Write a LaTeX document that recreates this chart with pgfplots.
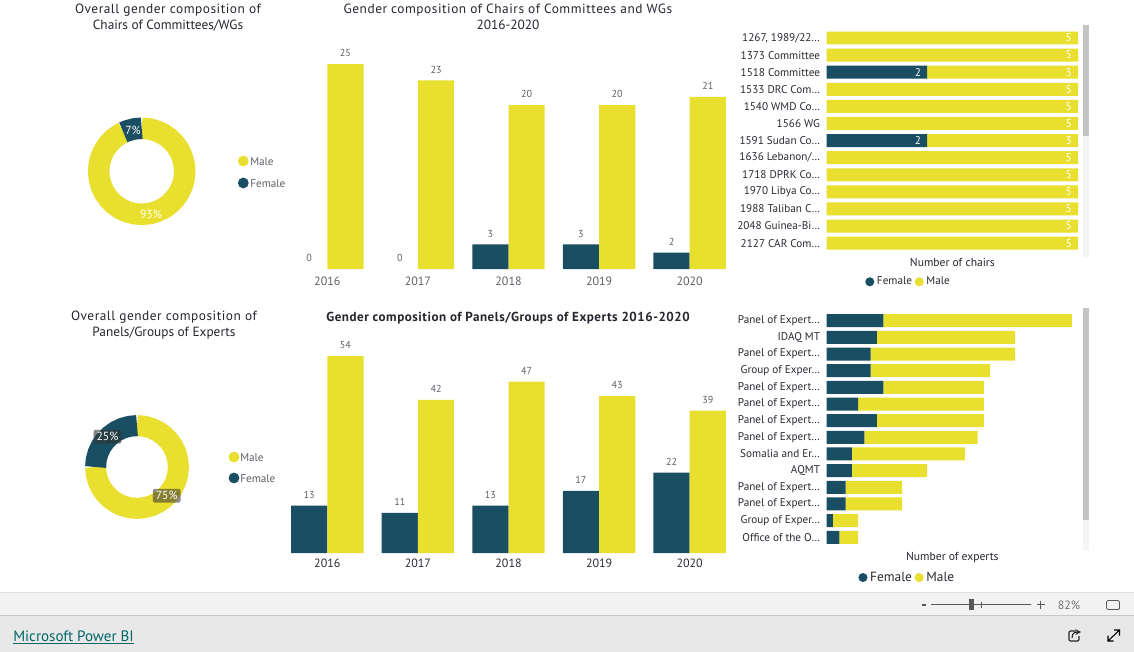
\documentclass[border=0pt]{standalone}
\usepackage{fontspec}
\setmainfont{PT Sans}
\newfontfamily\titlefont[LetterSpace=4]{PT Sans}
\usepackage{pgfplots}
\usepgfplotslibrary{polar}
\pgfplotsset{compat=1.18}

\definecolor{male}{HTML}{E9DF2F}
\definecolor{female}{HTML}{1A4E62}
\definecolor{titlecol}{HTML}{252630}
\definecolor{labelcol}{HTML}{5F6068}
\definecolor{darklabel}{HTML}{2A2A33}

% 1 px = 0.75 pt, all picture coordinates are reference pixels
\pgfplotsset{
  /pgf/number format/assume math mode=true,
  pxat/.style 2 args={at={({#1*0.75pt},{-#2*0.75pt})}},
  circlelegend/.style={
    legend image code/.code={\fill[##1] (0pt,0pt) circle (3.4pt);},
    legend cell align=left,
  },
  donut/.style={
    hide axis, scale only axis, clip=false,
    xmin=0, xmax=360, ymin=0, ymax=1,
  },
  yearbars/.style={
    ybar=0pt, bar width=0.4, scale only axis, clip=false,
    width=339.75pt,
    xmin=-0.5, xmax=4.5, ymin=0,
    xtick={0,1,2,3,4}, xticklabels={2016,2017,2018,2019,2020},
    ytick=\empty,
    axis y line=none, axis x line=bottom,
    x axis line style={draw=none, -},
    major tick length=0pt,
    nodes near coords,
    every node near coord/.append style={font=\fontsize{7.6pt}{9pt}\selectfont, color=labelcol, yshift=1.8pt},
  },
  rowbars/.style={
    xbar stacked, scale only axis, clip=false,
    y dir=reverse, bar width=0.76,
    xtick=\empty, ytick=data,
    axis line style={draw=none},
    major tick length=0pt,
    xmin=0,
    yticklabel style={font=\fontsize{8.4pt}{10pt}\selectfont, color=darklabel, xshift=-1.5pt},
    circlelegend,
  },
}

\begin{document}
\begin{tikzpicture}[x=0.75pt,y=-0.75pt]
\path[use as bounding box] (0,0) rectangle (1134,652);
\fill[white] (0,0) rectangle (1134,652);

% footer
\fill[black!5] (0,593) rectangle (1134,615);
\fill[black!9] (0,615) rectangle (1134,652);
\draw[black!12, line width=0.75pt] (0,592.5) -- (1134,592.5);
\draw[black!22, line width=0.75pt] (0,615) -- (1134,615);
\node[anchor=west, inner sep=0pt, text=teal!80!black] at (13,637.5)
  {\fontsize{11.3pt}{12pt}\selectfont\underline{Microsoft Power BI}};
\draw[black!65, line width=1.1pt] (922,605) -- (926,605);
\draw[black!65, line width=0.7pt] (931,604.7) -- (1030.7,604.7);
\fill[black!65] (969,599) rectangle (973.5,610);
\draw[black!65, line width=0.5pt] (981,601.5) -- (981,608);
\draw[black!65, line width=0.8pt] (1037,604.7) -- (1044.5,604.7) (1040.7,601) -- (1040.7,608.5);
\node[inner sep=0pt, text=black!55] at (1069,605) {\fontsize{9pt}{10pt}\selectfont 82\%};
\draw[black!65, line width=0.6pt, rounded corners=1pt] (1106.5,600.5) rectangle (1119.5,609.5);
\draw[black!85, line width=0.8pt, rounded corners=0.8pt] (1076,631) -- (1069,631) -- (1069,641) -- (1079,641) -- (1079,636);
\draw[black!85, line width=0.8pt, -stealth] (1072,638) .. controls (1072,632) and (1076,632) .. (1081,632);
\draw[black, line width=0.8pt] (1108,641) -- (1119.5,630) (1114,630) -- (1119.5,630) -- (1119.5,635.5) (1108,635.5) -- (1108,641) -- (1113.5,641);

% titles
\node[align=center, inner sep=0pt, text=titlecol] at (168,17.5)
  {\titlefont\fontsize{10pt}{12pt}\selectfont Overall gender composition of\\Chairs of Committees/WGs};
\node[align=center, inner sep=0pt, text=titlecol] at (164,325.5)
  {\titlefont\fontsize{10pt}{12pt}\selectfont Overall gender composition of\\Panels/Groups of Experts};
\node[align=center, inner sep=0pt, text=titlecol] at (508,17)
  {\titlefont\fontsize{10pt}{12pt}\selectfont Gender composition of Chairs of Committees and WGs\\2016-2020};
\node[align=center, inner sep=0pt, text=titlecol] at (508,318)
  {\titlefont\bfseries\fontsize{9.8pt}{12pt}\selectfont Gender composition of Panels/Groups of Experts 2016-2020};

% donut, chairs: 93% / 7%, clockwise from the top
\begin{polaraxis}[donut, pxat={141.7}{171.3}, anchor=center,
    width=80.7pt, height=80.7pt]
  \addplot[male, line width=16.1pt, line join=round] coordinates {
    (90,0.8) (80,0.8) (70,0.8) (60,0.8) (50,0.8) (40,0.8) (30,0.8) (20,0.8) (10,0.8) (0,0.8)
    (-10,0.8) (-20,0.8) (-30,0.8) (-40,0.8) (-50,0.8) (-60,0.8) (-70,0.8) (-80,0.8) (-90,0.8)
    (-100,0.8) (-110,0.8) (-120,0.8) (-130,0.8) (-140,0.8) (-150,0.8) (-160,0.8) (-170,0.8)
    (-180,0.8) (-190,0.8) (-200,0.8) (-210,0.8) (-220,0.8) (-230,0.8) (-240,0.8) (-244.8,0.8)};
  \addplot[female, line width=16.1pt] coordinates {
    (115.2,0.8) (110,0.8) (100,0.8) (90,0.8)};
\end{polaraxis}
\node[text=white, inner sep=0pt] at (133,130) {\fontsize{8.8pt}{10pt}\selectfont 7\%};
\node[text=white, inner sep=0pt] at (151,214.5) {\fontsize{8.8pt}{10pt}\selectfont 93\%};
\fill[male] (243.3,161) circle (5.4);
\fill[female] (243.3,183) circle (5.4);
\node[anchor=west, inner sep=0pt, text=labelcol] at (250,162) {\fontsize{8.4pt}{10pt}\selectfont Male};
\node[anchor=west, inner sep=0pt, text=labelcol] at (250,184) {\fontsize{8.4pt}{10pt}\selectfont Female};

% donut, experts: 75% / 25%
\begin{polaraxis}[donut, pxat={137}{467}, anchor=center,
    width=78pt, height=78pt]
  \addplot[male, line width=15.75pt] coordinates {
    (90,0.796) (80,0.796) (70,0.796) (60,0.796) (50,0.796) (40,0.796) (30,0.796) (20,0.796) (10,0.796) (0,0.796)
    (-10,0.796) (-20,0.796) (-30,0.796) (-40,0.796) (-50,0.796) (-60,0.796) (-70,0.796) (-80,0.796) (-90,0.796)
    (-100,0.796) (-110,0.796) (-120,0.796) (-130,0.796) (-140,0.796) (-150,0.796) (-160,0.796) (-170,0.796) (-180,0.796)};
  \addplot[female, line width=15.75pt] coordinates {
    (180,0.796) (170,0.796) (160,0.796) (150,0.796) (140,0.796) (130,0.796) (120,0.796) (110,0.796) (100,0.796) (90,0.796)};
\end{polaraxis}
\node[text=white, fill=black!80, fill opacity=0.6, text opacity=1, rounded corners=1.5pt, inner xsep=2.2pt, inner ysep=2pt]
  at (107.5,436.7) {\fontsize{8.8pt}{10pt}\selectfont 25\%};
\node[text=white, fill=black!80, fill opacity=0.55, text opacity=1, rounded corners=1.5pt, inner xsep=2.2pt, inner ysep=2pt]
  at (166.7,495.7) {\fontsize{8.8pt}{10pt}\selectfont 75\%};
\fill[male] (234,457) circle (5.4);
\fill[female] (234,478) circle (5.4);
\node[anchor=west, inner sep=0pt, text=labelcol] at (240,458) {\fontsize{8.4pt}{10pt}\selectfont Male};
\node[anchor=west, inner sep=0pt, text=labelcol] at (240,479) {\fontsize{8.4pt}{10pt}\selectfont Female};

% chairs by year, the two zero bars carry only their label
\begin{axis}[yearbars, pxat={282}{269}, anchor=south west,
    height=153.75pt, ymax=25,
    xticklabel style={font=\fontsize{9pt}{10pt}\selectfont, color=labelcol, yshift=-2.75pt}]
  \addplot[fill=none, draw=none, bar shift=-0.2] coordinates {(0,0) (1,0)};
  \addplot[fill=female, draw=none, bar shift=-0.2] coordinates {(2,3) (3,3) (4,2)};
  \addplot[fill=male, draw=none, bar shift=0.2] coordinates {(0,25) (1,23) (2,20) (3,20) (4,21)};
\end{axis}

% experts by year
\begin{axis}[yearbars, pxat={282}{553}, anchor=south west,
    height=147.75pt, ymax=54,
    xticklabel style={font=\fontsize{9pt}{10pt}\selectfont, color=darklabel, yshift=-1.25pt}]
  \addplot[fill=female, draw=none] coordinates {(0,13) (1,11) (2,13) (3,17) (4,22)};
  \addplot[fill=male, draw=none] coordinates {(0,54) (1,42) (2,47) (3,43) (4,39)};
\end{axis}

% scrollbars
\fill[black!4] (1082.5,24.7) rectangle (1089,257.3);
\fill[black!23] (1082.5,24.7) rectangle (1089,136);
\fill[black!4] (1082.5,308) rectangle (1089,550.7);
\fill[black!23] (1082.5,308) rectangle (1089,520);

% chairs by body; labels sit 9 px inside the end of each segment
\begin{axis}[rowbars, pxat={826.7}{29.45}, anchor=north west,
    width=188.5pt, height=166.7pt, xmax=5,
    ymin=-0.5, ymax=12.5,
    yticklabels={{1267, 1989/22…},1373 Committee,1518 Committee,1533 DRC Com…,1540 WMD Co…,1566 WG,1591 Sudan Co…,1636 Lebanon/…,1718 DPRK Co…,1970 Libya Co…,1988 Taliban C…,2048 Guinea-Bi…,2127 CAR Com…},
    xlabel={Number of chairs},
    xlabel style={font=\fontsize{8.7pt}{10pt}\selectfont, color=titlecol, yshift=-1.25pt},
    legend style={at={(0.327,-0.1)}, anchor=north, legend columns=2, draw=none, fill=none,
      font=\fontsize{8.4pt}{10pt}\selectfont\color{darklabel}, inner sep=0pt},
    visualization depends on=rawx \as \rawv,
    nodes near coords={\pgfmathfloatifflags{\pgfplotspointmeta}{0}{}{\pgfmathprintnumber{\pgfplotspointmeta}}},
    every node near coord/.append style={anchor=center, color=white,
      font=\fontsize{8.4pt}{9pt}\selectfont, xshift={\rawv*18.85pt-7pt}},
  ]
  \addplot[fill=female, draw=none] coordinates {
    (0,0) (0,1) (2,2) (0,3) (0,4) (0,5) (2,6) (0,7) (0,8) (0,9) (0,10) (0,11) (0,12)};
  \addplot[fill=male, draw=none] coordinates {
    (5,0) (5,1) (3,2) (5,3) (5,4) (5,5) (3,6) (5,7) (5,8) (5,9) (5,10) (5,11) (5,12)};
  \legend{Female,Male}
\end{axis}

% experts by body
\begin{axis}[rowbars, pxat={826.7}{312.4}, anchor=north west,
    width=188.5pt, height=174.9pt, xmax=40,
    ymin=-0.5, ymax=13.5,
    yticklabels={Panel of Expert…,IDAQ MT,Panel of Expert…,Group of Exper…,Panel of Expert…,Panel of Expert…,Panel of Expert…,Panel of Expert…,Somalia and Er…,AQMT,Panel of Expert…,Panel of Expert…,Group of Exper…,Office of the O…},
    xlabel={Number of experts},
    xlabel style={font=\fontsize{8.7pt}{10pt}\selectfont, color=titlecol, yshift=-1.6pt},
    legend style={at={(0.322,-0.1)}, anchor=north, legend columns=2, draw=none, fill=none,
      font=\fontsize{10pt}{11pt}\selectfont\color{darklabel}, inner sep=0pt},
    bar width=0.78,
  ]
  \addplot[fill=female, draw=none] coordinates {
    (9,0) (8,1) (7,2) (7,3) (9,4) (5,5) (8,6) (6,7) (4,8) (4,9) (3,10) (3,11) (1,12) (2,13)};
  \addplot[fill=male, draw=none] coordinates {
    (30,0) (22,1) (23,2) (19,3) (16,4) (20,5) (17,6) (18,7) (18,8) (12,9) (9,10) (9,11) (4,12) (3,13)};
  \legend{Female,Male}
\end{axis}
\end{tikzpicture}
\end{document}
